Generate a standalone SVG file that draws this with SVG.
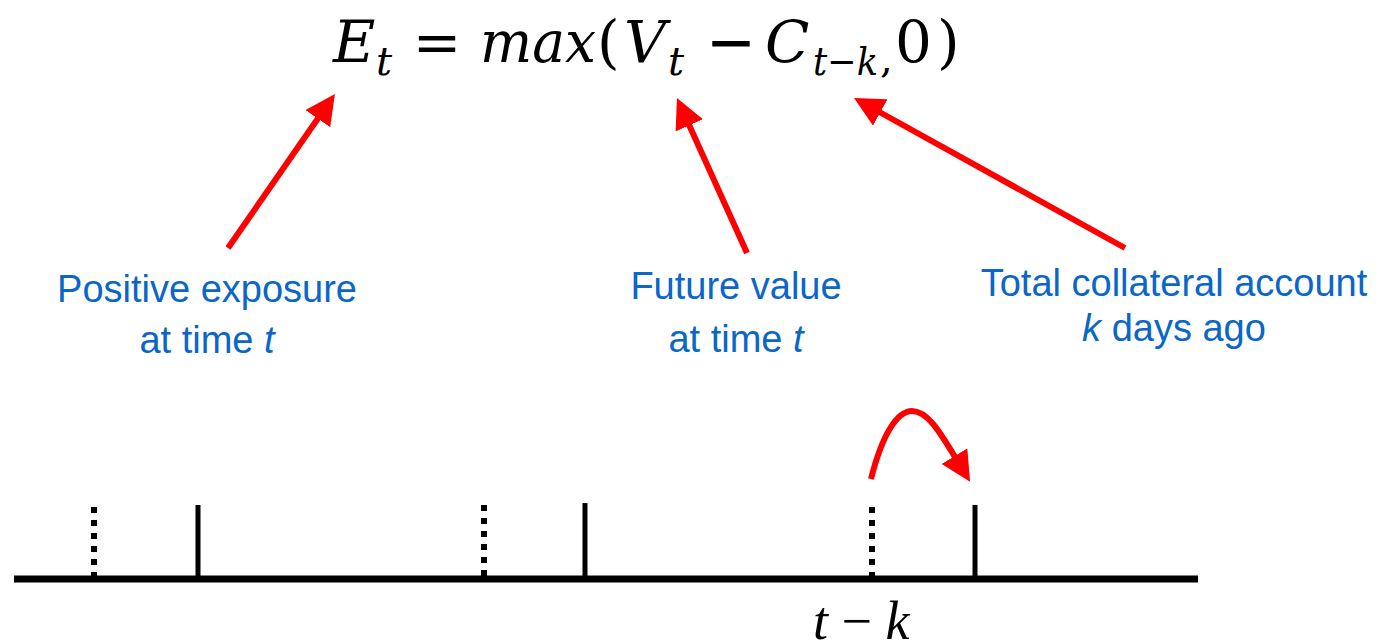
<svg xmlns="http://www.w3.org/2000/svg" width="1380" height="644" viewBox="0 0 1380 644">
  <defs>
    <marker id="head" markerUnits="userSpaceOnUse" markerWidth="31" markerHeight="31" viewBox="0 0 31 31" refX="1" refY="15" orient="auto">
      <path d="M0,0 L30,15 L0,30 Z" fill="#ff0000"/>
    </marker>
    <style>
      .math { font-family: "DejaVu Serif", "Liberation Serif", serif; fill: #000; }
      .it { font-style: italic; }
      .main { font-size: 58px; }
      .sub { font-size: 40px; }
      .label { font-family: "Liberation Sans", Arial, sans-serif; font-size: 38px; fill: #0a66c8; text-anchor: middle; }
      .arrow { stroke: #ff0000; stroke-width: 6; fill: none; marker-end: url(#head); }
      .axis { stroke: #000; stroke-width: 7; }
      .tick { stroke: #000; stroke-width: 5; }
      .dot { stroke: #000; stroke-width: 6; stroke-dasharray: 6 7; }
    </style>
  </defs>

  <g id="formula">
    <text class="math main it" x="333" y="62">E</text>
    <text class="math sub it" x="376" y="75">t</text>
    <text class="math main" x="437" y="62" text-anchor="middle">=</text>
    <text class="math main it" x="480" y="62" textLength="116" lengthAdjust="spacingAndGlyphs">max</text>
    <text class="math main" x="597" y="62">(</text>
    <text class="math main it" x="624" y="62" textLength="42" lengthAdjust="spacingAndGlyphs">V</text>
    <text class="math sub it" x="668" y="75">t</text>
    <text class="math main" x="731" y="62" text-anchor="middle" stroke="#000" stroke-width="1">−</text>
    <text class="math main it" x="765" y="62">C</text>
    <text class="math sub" x="813" y="75" textLength="65" lengthAdjust="spacingAndGlyphs"><tspan class="it">t</tspan>−<tspan class="it">k</tspan></text>
    <text class="math sub" x="880" y="72">,</text>
    <text class="math main" x="895" y="62">0</text>
    <text class="math main" x="937" y="62">)</text>
  </g>

  <g id="label-exposure">
    <text class="label" x="207" y="302">Positive exposure</text>
    <text class="label" x="207" y="353">at time <tspan font-style="italic">t</tspan></text>
  </g>

  <g id="label-future">
    <text class="label" x="736" y="299">Future value</text>
    <text class="label" x="736" y="352">at time <tspan font-style="italic">t</tspan></text>
  </g>

  <g id="label-collateral">
    <text class="label" x="1174" y="296">Total collateral account</text>
    <text class="label" x="1174" y="341"><tspan font-style="italic">k</tspan> days ago</text>
  </g>

  <g id="timeline">
    <line class="axis" x1="14" y1="579" x2="1198" y2="579"/>
    <line class="dot" x1="94" y1="507" x2="94" y2="576"/>
    <line class="tick" x1="198" y1="505" x2="198" y2="578"/>
    <line class="dot" x1="484" y1="505" x2="484" y2="576"/>
    <line class="tick" x1="585" y1="503" x2="585" y2="578"/>
    <line class="dot" x1="872" y1="507" x2="872" y2="576"/>
    <line class="tick" x1="975" y1="505" x2="975" y2="578"/>
    <text x="813" y="639" font-family="Liberation Serif, serif" font-size="54" fill="#000"><tspan font-style="italic">t</tspan> − <tspan font-style="italic">k</tspan></text>
  </g>

  <g id="connectors">
    <line class="arrow" x1="228" y1="248" x2="318.4" y2="117.8"/>
    <line class="arrow" x1="747" y1="253" x2="688.9" y2="124.4"/>
    <line class="arrow" x1="1125" y1="248" x2="879.4" y2="112"/>
    <path class="arrow" d="M871,479 C882,435 897,411 912,411 C928,411 941,434 955,457"/>
  </g>
</svg>
